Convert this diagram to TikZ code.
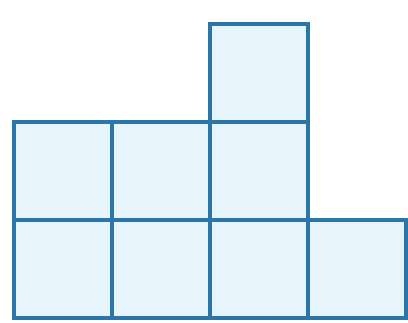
\documentclass[tikz,border=0pt]{standalone}
\usepackage{tikz}
\definecolor{cellline}{RGB}{42,118,168}
\definecolor{cellfill}{RGB}{232,244,251}
\tikzset{cell/.style={draw=cellline, fill=cellfill, line width=2.6pt, minimum size=2.45cm, inner sep=0pt, outer sep=0pt}}
\begin{document}
\begin{tikzpicture}
	\useasboundingbox (-0.35,-0.1) rectangle (9.85,7.95);
	% bottom row
	\foreach \c in {1,...,4}
		\node[cell] (b\c) at ({(\c-0.5)*2.45},1.225) {};
	% middle row
	\foreach \c in {1,...,3}
		\node[cell] (m\c) at ({(\c-0.5)*2.45},3.675) {};
	% top square
	\node[cell] (t3) at (6.125,6.125) {};
\end{tikzpicture}
\end{document}
